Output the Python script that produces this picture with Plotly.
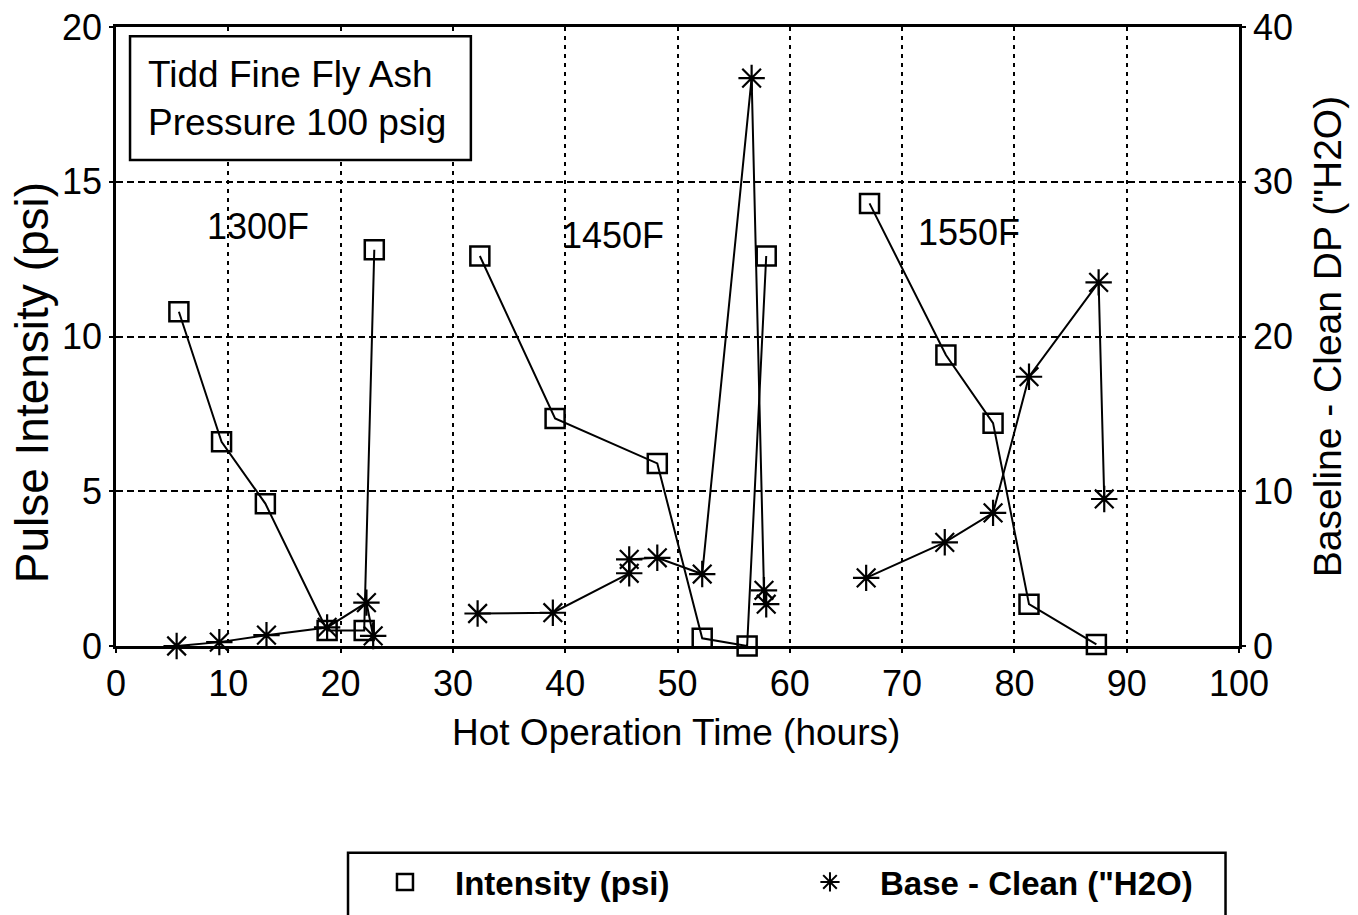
import plotly.graph_objects as go

# Pulse intensity (psi), left axis
int_hours = [5.6, 9.4, 13.3, 18.8, 22.1, 23.0,
             32.4, 39.1, 48.2, 52.2, 56.2, 57.9,
             67.1, 73.9, 78.1, 81.3, 87.3]
int_psi = [10.8, 6.6, 4.6, 0.5, 0.5, 12.8,
           12.6, 7.35, 5.9, 0.25, 0.0, 12.6,
           14.3, 9.4, 7.2, 1.35, 0.05]

# Baseline - clean pressure drop ("H2O), right axis
dp_hours = [5.4, 9.2, 13.4, 18.8, 22.3, 22.9,
            32.2, 38.9, 45.7, 45.7, 48.2, 52.2, 56.6, 57.7, 57.9,
            66.8, 73.8, 78.1, 81.3, 87.5, 88.0]
dp_h2o = [0.0, 0.25, 0.7, 1.2, 2.8, 0.65,
          2.1, 2.15, 4.7, 5.6, 5.7, 4.65, 36.7, 3.6, 2.7,
          4.4, 6.7, 8.6, 17.4, 23.5, 9.5]

# break lines between temperature campaigns
def segmented(xs, ys, breaks):
    ox, oy = [], []
    for i, (a, b) in enumerate(zip(xs, ys)):
        if i in breaks:
            ox.append(None)
            oy.append(None)
        ox.append(a)
        oy.append(b)
    return ox, oy

ix, iy = segmented(int_hours, int_psi, {6, 12})
dx, dy = segmented(dp_hours, dp_h2o, {6, 15})

temp_labels = ["1300F", "1450F", "1550F"]
temp_x = [12.6, 44.3, 76.0]
temp_y = [13.55, 13.25, 13.35]

FONT = "Liberation Sans"

fig = go.Figure()
fig.add_trace(go.Scatter(
    x=ix, y=iy, mode="lines+markers", yaxis="y", showlegend=False,
    line=dict(color="black", width=2), cliponaxis=False,
    marker=dict(symbol="square-open", size=19, color="black", line=dict(width=2.5)),
))
fig.add_trace(go.Scatter(
    x=dx, y=dy, mode="lines+markers", yaxis="y2", showlegend=False,
    line=dict(color="black", width=2), cliponaxis=False,
    marker=dict(symbol="asterisk-open", size=22, color="black", line=dict(width=2.2, color="black")),
))
# legend entries (markers only)
fig.add_trace(go.Scatter(
    x=[None], y=[None], mode="markers", name="Intensity (psi)",
    marker=dict(symbol="square-open", size=16, color="black", line=dict(width=2.5)),
))
fig.add_trace(go.Scatter(
    x=[None], y=[None], mode="markers", name='Base - Clean ("H2O)',
    marker=dict(symbol="asterisk-open", size=18, color="black", line=dict(width=2, color="black")),
))

for t, x, y in zip(temp_labels, temp_x, temp_y):
    fig.add_annotation(x=x, y=y, xref="x", yref="y", text=t, showarrow=False,
                       font=dict(family=FONT, size=36, color="black"))

# caption box
fig.add_shape(type="rect", xref="paper", yref="paper",
              x0=0.0125, x1=0.316, y0=0.785, y1=0.985,
              line=dict(color="black", width=2.5), fillcolor="white", layer="above")
fig.add_annotation(xref="paper", yref="paper", x=0.027, y=0.885, xanchor="left", yanchor="middle",
                   text="Tidd Fine Fly Ash<br>Pressure 100 psig", showarrow=False, align="left",
                   font=dict(family=FONT, size=37, color="black"))

# left axis title, set lower than centre
fig.add_annotation(xref="paper", yref="paper", x=-0.0748, y=0.426, xanchor="center", yanchor="middle",
                   text="Pulse Intensity (psi)", textangle=-90, showarrow=False,
                   font=dict(family=FONT, size=46, color="black"))

# x axis title
fig.add_annotation(xref="paper", yref="paper", x=0.4987, y=-0.1395, xanchor="center", yanchor="middle",
                   text="Hot Operation Time (hours)", showarrow=False,
                   font=dict(family=FONT, size=37, color="black"))

# legend frame (runs off the bottom edge)
fig.add_shape(type="rect", xref="paper", yref="paper",
              x0=0.2066, x1=0.988, y0=-0.47, y1=-0.334,
              line=dict(color="black", width=2.5), fillcolor="rgba(0,0,0,0)")

axis_common = dict(
    showline=True, linecolor="black", linewidth=2.5,
    ticks="outside", ticklen=4, tickwidth=2, tickcolor="black",
    tickfont=dict(family=FONT, size=36, color="black"),
    zeroline=False,
)

fig.update_layout(
    width=1358, height=915,
    paper_bgcolor="white", plot_bgcolor="white",
    margin=dict(l=116, r=119, t=27, b=269, autoexpand=False),
    font=dict(family=FONT, color="black"),
    xaxis=dict(
        range=[0, 100], tickmode="linear", tick0=0, dtick=10, mirror=True,
        showgrid=True, gridcolor="black", gridwidth=2, griddash="4px,5px",
        **axis_common,
    ),
    yaxis=dict(
        range=[0, 20], tickmode="linear", tick0=0, dtick=5,
        showgrid=True, gridcolor="black", gridwidth=2, griddash="7px,4px",
        **axis_common,
    ),
    yaxis2=dict(
        range=[0, 40], tickmode="linear", tick0=0, dtick=10,
        overlaying="y", side="right", showgrid=False,
        title=dict(text='Baseline - Clean DP ("H2O)', font=dict(family=FONT, size=39), standoff=22),
        **axis_common,
    ),
    legend=dict(
        orientation="h", x=0.2128, y=-0.336, xanchor="left", yanchor="top",
        borderwidth=0, bgcolor="rgba(0,0,0,0)",
        font=dict(family=FONT, size=33, color="black", weight="bold"),
        entrywidth=320, itemwidth=90, itemsizing="trace",
    ),
)

fig.write_html("out.html")
